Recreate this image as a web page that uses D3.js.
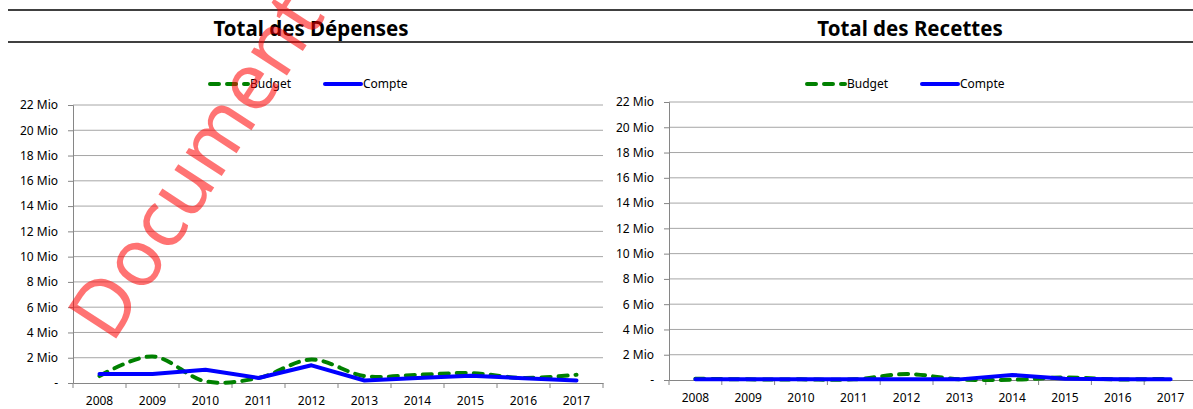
<!DOCTYPE html>
<html>
<head>
<meta charset="utf-8">
<script src="https://cdn.jsdelivr.net/npm/d3@7"></script>
<style>
  body { margin: 0; background: #fff; }
  text { font-family: "Noto Sans", sans-serif; }
</style>
</head>
<body>
<script>
// annees et valeurs en millions
const years = ["2008","2009","2010","2011","2012","2013","2014","2015","2016","2017"];
const yTicks = [0,2,4,6,8,10,12,14,16,18,20,22];

const depBudget = [0.55, 2.1, 0.13, 0.4, 1.85, 0.55, 0.65, 0.78, 0.4, 0.65];
const depCompte = [0.72, 0.72, 1.05, 0.4, 1.4, 0.2, 0.4, 0.58, 0.38, 0.2];
const recBudget = [0.1, 0.05, 0.05, 0.05, 0.47, 0.05, 0.02, 0.2, 0.05, 0.1];
const recCompte = [0.05, 0.05, 0.05, 0.05, 0.05, 0.05, 0.4, 0.1, 0.05, 0.05];

const svg = d3.select("body").append("svg")
    .attr("width", 1193)
    .attr("height", 409);

// lignes du cadre
svg.append("line").attr("x1", 8).attr("x2", 1193).attr("y1", 10).attr("y2", 10)
    .attr("stroke", "#000").attr("stroke-width", 1.6);
svg.append("line").attr("x1", 8).attr("x2", 1193).attr("y1", 42).attr("y2", 42)
    .attr("stroke", "#000").attr("stroke-width", 1.6);

function chart(opt) {
    const x = d3.scaleBand().domain(years).range([opt.left, opt.right]);
    const y = d3.scaleLinear().domain([0, 22]).range([opt.bottom, opt.top]);
    const g = svg.append("g");

    g.append("text")
        .attr("x", opt.titleX).attr("y", 36)
        .attr("text-anchor", "middle")
        .attr("font-weight", "bold")
        .attr("font-size", 20.5)
        .text(opt.title);

    // grille
    g.selectAll(".grid")
        .data(yTicks.slice(1))
        .enter().append("line")
        .attr("x1", opt.left).attr("x2", opt.right)
        .attr("y1", d => y(d)).attr("y2", d => y(d))
        .attr("stroke", "#a6a6a6");

    const ya = g.append("g")
        .attr("transform", `translate(${opt.left},0)`)
        .call(d3.axisLeft(y).tickValues(yTicks).tickSize(5).tickPadding(10)
            .tickFormat(d => d == 0 ? "-" : d + " Mio"));
    ya.select(".domain").attr("stroke", "#868686");
    ya.selectAll(".tick line").attr("stroke", "#868686");
    ya.selectAll("text").attr("font-size", 12).attr("fill", "#000");

    const xa = g.append("g")
        .attr("transform", `translate(0,${opt.bottom})`)
        .call(d3.axisBottom(x).tickSize(0).tickPadding(13));
    xa.select(".domain").attr("stroke", "#868686");
    xa.selectAll("text").attr("font-size", 12).attr("fill", "#000");

    g.selectAll(".xt")
        .data(d3.range(years.length + 1))
        .enter().append("line")
        .attr("x1", i => opt.left + i * x.step()).attr("x2", i => opt.left + i * x.step())
        .attr("y1", opt.bottom).attr("y2", opt.bottom + 5)
        .attr("stroke", "#868686");

    const cx = (d, i) => x(years[i]) + x.bandwidth() / 2;

    g.append("path")
        .datum(opt.budget)
        .attr("fill", "none")
        .attr("stroke", "#008000")
        .attr("stroke-width", 4)
        .attr("stroke-linecap", "round")
        .attr("stroke-dasharray", "9 8")
        .attr("d", d3.line().x(cx).y(d => y(d)).curve(d3.curveCatmullRom.alpha(0.5)));

    g.append("path")
        .datum(opt.compte)
        .attr("fill", "none")
        .attr("stroke", "#0000ff")
        .attr("stroke-width", 4)
        .attr("stroke-linejoin", "round")
        .attr("stroke-linecap", "round")
        .attr("d", d3.line().x(cx).y(d => y(d)));

    // legende
    const lg = g.append("g").attr("transform", `translate(${opt.legendX},84)`);
    lg.append("line").attr("x1", 2).attr("x2", 40)
        .attr("stroke", "#008000").attr("stroke-width", 4)
        .attr("stroke-linecap", "round").attr("stroke-dasharray", "9 8");
    lg.append("text").attr("x", 42).attr("y", 4).attr("font-size", 12).text("Budget");
    lg.append("line").attr("x1", 117).attr("x2", 153)
        .attr("stroke", "#0000ff").attr("stroke-width", 4).attr("stroke-linecap", "round");
    lg.append("text").attr("x", 155).attr("y", 4).attr("font-size", 12).text("Compte");
}

chart({ title: "Total des Dépenses", titleX: 311, left: 73, right: 603, top: 105, bottom: 383,
        legendX: 208, budget: depBudget, compte: depCompte });
chart({ title: "Total des Recettes", titleX: 910, left: 669, right: 1197, top: 102, bottom: 380,
        legendX: 805, budget: recBudget, compte: recCompte });

// filigrane
svg.append("text")
    .attr("transform", "translate(112,345) rotate(-57)")
    .attr("font-family", "Liberation Sans")
    .attr("font-size", 80)
    .attr("fill", "#ff0000")
    .attr("fill-opacity", 0.55)
    .text("Document");
</script>
</body>
</html>
